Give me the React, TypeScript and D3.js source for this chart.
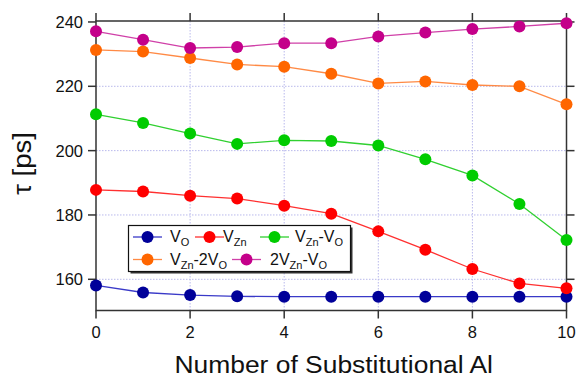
import React from "react";
import * as d3 from "d3";

const W = 577;
const H = 375;
const M = { left: 96, right: 10.5, top: 21, bottom: 64.5 };

const alCount = [0, 1, 2, 3, 4, 5, 6, 7, 8, 9, 10];
const xTicks = [0, 2, 4, 6, 8, 10];
const yTicks = [160, 180, 200, 220, 240];

const vO = [158.1, 155.9, 155.1, 154.7, 154.6, 154.6, 154.6, 154.6, 154.6, 154.6, 154.6];
const vZn = [187.8, 187.3, 186.0, 185.1, 182.9, 180.4, 174.9, 169.2, 163.2, 158.7, 157.2];
const vZnVO = [211.3, 208.6, 205.3, 202.1, 203.2, 203.0, 201.6, 197.3, 192.3, 183.4, 172.2];
const vZn2VO = [231.3, 230.8, 228.8, 226.8, 226.1, 223.9, 220.9, 221.5, 220.4, 220.0, 214.4];
const v2ZnVO = [237.1, 234.5, 231.9, 232.2, 233.4, 233.4, 235.5, 236.7, 237.8, 238.6, 239.6];

type Part = { t: string; sub?: boolean };
type Series = { values: number[]; color: string; line: string; label: Part[] };

const series: Series[] = [
  { values: vO, color: "#000099", line: "#3a3ac8", label: [{ t: "V" }, { t: "O", sub: true }] },
  { values: vZn, color: "#ff0000", line: "#ff3030", label: [{ t: "V" }, { t: "Zn", sub: true }] },
  {
    values: vZnVO,
    color: "#00cc00",
    line: "#30d030",
    label: [{ t: "V" }, { t: "Zn", sub: true }, { t: "-V" }, { t: "O", sub: true }],
  },
  {
    values: vZn2VO,
    color: "#ff6600",
    line: "#ff8a45",
    label: [{ t: "V" }, { t: "Zn", sub: true }, { t: "-2V" }, { t: "O", sub: true }],
  },
  {
    values: v2ZnVO,
    color: "#c4008a",
    line: "#d040a8",
    label: [{ t: "2V" }, { t: "Zn", sub: true }, { t: "-V" }, { t: "O", sub: true }],
  },
];

// legend slots: [row, line start x, text x]
const legendSlots = [
  [0, 133, 170],
  [0, 195, 223],
  [0, 260, 295],
  [1, 133, 170],
  [1, 232, 270],
];

const FONT = "Liberation Sans, Arial, Helvetica, sans-serif";

function Label({ parts, x, y }: { parts: Part[]; x: number; y: number }) {
  return (
    <text x={x} y={y} fontSize={16} fontFamily={FONT} fill="#111">
      {parts.map((p, i) =>
        p.sub ? (
          <tspan key={i} fontSize={11} dy={4}>
            {p.t}
          </tspan>
        ) : (
          <tspan key={i} dy={i > 0 ? -4 : 0}>
            {p.t}
          </tspan>
        )
      )}
    </text>
  );
}

export default function App() {
  const x = d3.scaleLinear().domain([0, 10]).range([M.left, W - M.right]);
  const y = d3.scaleLinear().domain([150.3, 240.3]).range([H - M.bottom, M.top]);
  const x0 = x(0);
  const x1 = x(10);
  const yTop = M.top;
  const yBot = H - M.bottom;
  const tick = 8;
  const axisColor = "#333";

  const line = (vals: number[]) =>
    d3
      .line<number>()
      .x((_, i) => x(alCount[i]))
      .y((v) => y(v))(vals) as string;

  const lx0 = 128.5;
  const ly0 = 225.5;
  const lw = 222;
  const lh = 46;

  return (
    <svg
      width={W}
      height={H}
      style={{ position: "absolute", left: 0, top: 0, background: "#fff" }}
    >
      {/* grid */}
      <g stroke="#b9b9ec" strokeWidth={1} strokeDasharray="1.5,1.5">
        {xTicks.slice(1, -1).map((t) => (
          <line key={"gx" + t} x1={x(t)} x2={x(t)} y1={yTop} y2={yBot} />
        ))}
        {yTicks.slice(0, -1).map((t) => (
          <line key={"gy" + t} x1={x0} x2={x1} y1={y(t)} y2={y(t)} />
        ))}
      </g>

      {/* frame and ticks */}
      <g stroke={axisColor} strokeWidth={1.5} fill="none">
        <rect x={x0} y={yTop} width={x1 - x0} height={yBot - yTop} />
        {xTicks.map((t) => (
          <g key={"tx" + t}>
            <line x1={x(t)} x2={x(t)} y1={yBot} y2={yBot + tick} />
            <line x1={x(t)} x2={x(t)} y1={yTop} y2={yTop - tick} />
          </g>
        ))}
        {yTicks.map((t) => (
          <g key={"ty" + t}>
            <line x1={x0 - tick} x2={x0} y1={y(t)} y2={y(t)} />
            <line x1={x1} x2={x1 + tick} y1={y(t)} y2={y(t)} />
          </g>
        ))}
      </g>

      {/* tick labels */}
      <g fontFamily={FONT} fontSize={16.5} fill="#111">
        {xTicks.map((t) => (
          <text key={"lx" + t} x={x(t)} y={yBot + 27} textAnchor="middle">
            {t}
          </text>
        ))}
        {yTicks.map((t) => (
          <text key={"ly" + t} x={x0 - 13} y={y(t) + 6} textAnchor="end">
            {t}
          </text>
        ))}
      </g>

      {/* axis titles */}
      <text
        x={174.5}
        y={372.5}
        textLength={318.5}
        lengthAdjust="spacingAndGlyphs"
        fontFamily={FONT}
        fontSize={23.5}
        fill="#111"
      >
        Number of Substitutional Al
      </text>
      <text
        transform={`translate(31.3,195) rotate(-90)`}
        textLength={63}
        lengthAdjust="spacingAndGlyphs"
        fontFamily={FONT}
        fontSize={25}
        fill="#111"
      >
        τ [ps]
      </text>

      {/* series */}
      {series.map((s, si) => (
        <g key={"s" + si}>
          <path d={line(s.values)} fill="none" stroke={s.line} strokeWidth={1.3} />
          {s.values.map((v, i) => (
            <circle key={i} cx={x(alCount[i])} cy={y(v)} r={6} fill={s.color} />
          ))}
        </g>
      ))}

      {/* legend */}
      <g>
        <rect x={lx0 + 2} y={ly0 + 2} width={lw} height={lh} fill="#333" />
        <rect x={lx0} y={ly0} width={lw} height={lh} fill="#fff" stroke="#111" strokeWidth={1.2} />
        {series.map((s, si) => {
          const [row, lxs, tx] = legendSlots[si];
          const cy = ly0 + 11.5 + row * 22.5;
          return (
            <g key={"lg" + si}>
              <line x1={lxs} x2={lxs + 29} y1={cy} y2={cy} stroke={s.line} strokeWidth={1.3} />
              <circle cx={lxs + 14.5} cy={cy} r={6} fill={s.color} />
              <Label parts={s.label} x={tx} y={cy + 5} />
            </g>
          );
        })}
      </g>
    </svg>
  );
}
